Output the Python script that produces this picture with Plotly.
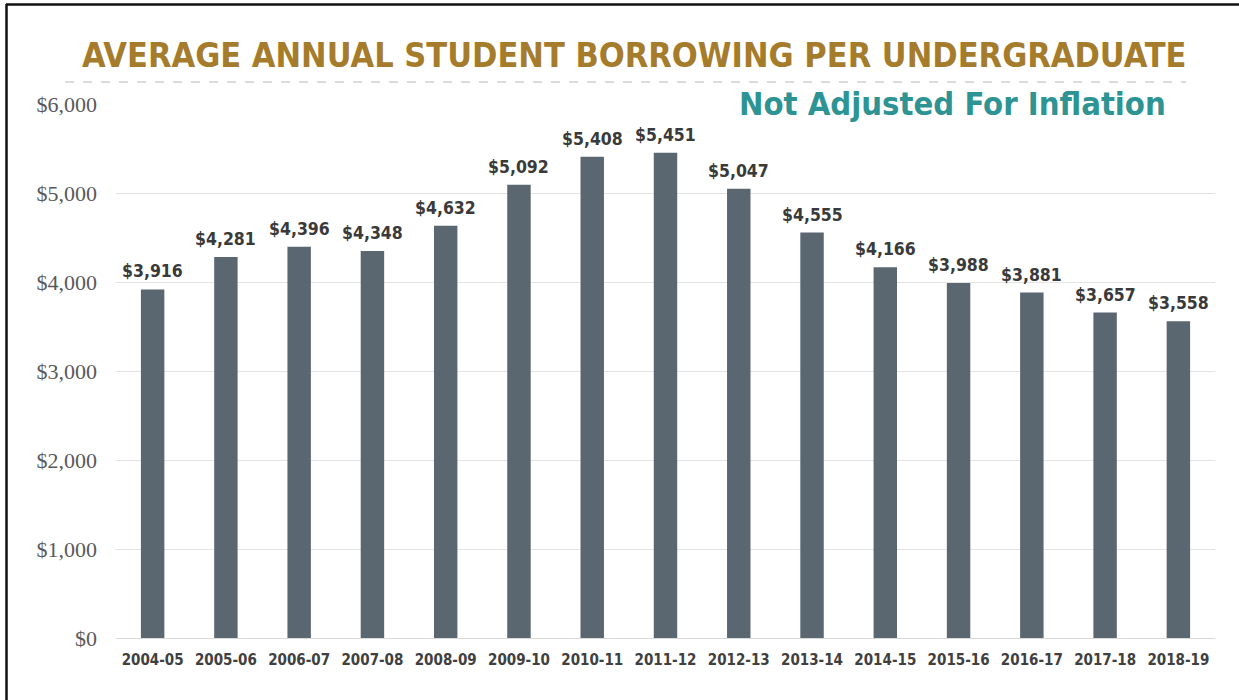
import plotly.graph_objects as go

years = ["2004-05", "2005-06", "2006-07", "2007-08", "2008-09", "2009-10", "2010-11",
         "2011-12", "2012-13", "2013-14", "2014-15", "2015-16", "2016-17", "2017-18", "2018-19"]
borrowing = [3916, 4281, 4396, 4348, 4632, 5092, 5408, 5451, 5047, 4555, 4166, 3988, 3881, 3657, 3558]
y_ticks = [0, 1000, 2000, 3000, 4000, 5000, 6000]
y_tick_text = ["$0", "$1,000", "$2,000", "$3,000", "$4,000", "$5,000", "$6,000"]

W, H = 1239, 700
L, R, T, B = 116, 24, 104, 62
PW, PH = W - L - R, H - T - B

def px(x):
    return (x - L) / PW

def py(y):
    return (H - B - y) / PH

COND = "DejaVu Sans Condensed, Liberation Sans Narrow, sans-serif"

fig = go.Figure()
fig.add_trace(go.Bar(
    x=years, y=borrowing,
    marker=dict(color="#5b6770", line=dict(width=0)),
    cliponaxis=False,
))

value_labels = [
    dict(x=yr, y=v, xref="x", yref="y", text=f"${v:,}", showarrow=False,
         xanchor="center", yanchor="bottom", yshift=6,
         font=dict(family=COND, size=17.5, color="#3a3a3a", weight="bold"))
    for yr, v in zip(years, borrowing)
]

fig.update_layout(
    width=W, height=H,
    margin=dict(l=L, r=R, t=T, b=B),
    paper_bgcolor="white", plot_bgcolor="white",
    showlegend=False,
    bargap=0.68,
    xaxis=dict(
        type="category",
        showgrid=False, showline=True, linecolor="#d9d9d9", linewidth=1,
        ticks="", tickfont=dict(family=COND, size=15, color="#404040", weight="bold"),
        ticklabelstandoff=8,
    ),
    yaxis=dict(
        range=[0, 6000], tickvals=y_ticks, ticktext=y_tick_text,
        showgrid=True, gridcolor="#e3e3e3", gridwidth=1, zeroline=False,
        showline=False, ticks="",
        tickfont=dict(family="Liberation Serif, DejaVu Serif, serif", size=22, color="#595959"),
        ticklabelstandoff=18,
    ),
    annotations=value_labels + [
        dict(text="AVERAGE ANNUAL STUDENT BORROWING PER UNDERGRADUATE",
             xref="paper", yref="paper", x=px(634), y=py(55),
             xanchor="center", yanchor="middle", showarrow=False,
             font=dict(family=COND, size=34, color="#a57c2c", weight="bold")),
        dict(text="Not Adjusted For Inflation",
             xref="paper", yref="paper", x=px(1168), y=py(104),
             xanchor="right", yanchor="middle", showarrow=False,
             font=dict(family=COND, size=32.5, color="#2e9393", weight="bold")),
    ],
    shapes=[
        dict(type="line", xref="paper", yref="paper", x0=px(65), x1=px(1186), y0=py(82), y1=py(82),
             line=dict(color="#d0d0d0", width=1.5, dash="dash")),
        dict(type="line", xref="paper", yref="paper", x0=px(6), x1=px(1239), y0=py(4.5), y1=py(4.5),
             line=dict(color="#111111", width=2.5)),
        dict(type="line", xref="paper", yref="paper", x0=px(6.5), x1=px(6.5), y0=py(4), y1=py(700),
             line=dict(color="#111111", width=2.5)),
    ],
)

fig.write_html("out.html")
